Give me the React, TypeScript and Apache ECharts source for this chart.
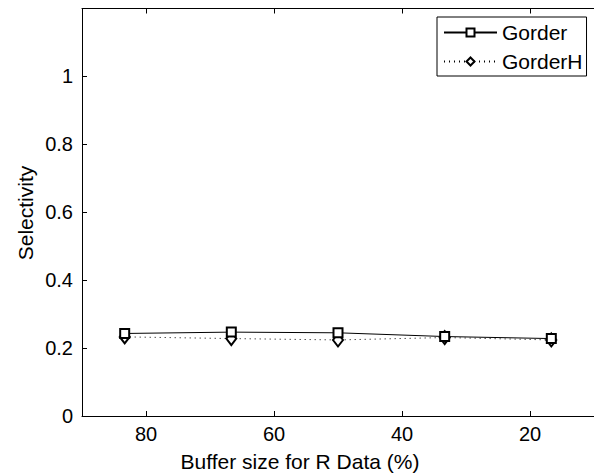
import React, { useEffect, useRef } from "react";
import * as echarts from "echarts";

const bufferSizes = [83.33, 66.67, 50, 33.33, 16.67];
const gorder = [0.243, 0.247, 0.245, 0.234, 0.228];
const gorderH = [0.233, 0.228, 0.224, 0.231, 0.224];
const xTicks = [20, 40, 60, 80];
const yTicks = [0, 0.2, 0.4, 0.6, 0.8, 1];
const seriesNames = ["Gorder", "GorderH"];
const xTitle = "Buffer size for R Data (%)";
const yTitle = "Selectivity";

const FONT = "'Liberation Sans', Arial, Helvetica, sans-serif";

export default function App() {
  const ref = useRef<HTMLDivElement>(null);
  useEffect(() => {
    document.body.style.margin = "0";
    document.body.style.overflow = "hidden";
    const chart = echarts.init(ref.current!, undefined, { renderer: "svg" });
    const axisLine = { lineStyle: { color: "#000", width: 1 } };
    const tick = { inside: true, length: 5, lineStyle: { color: "#000", width: 1 } };
    chart.setOption({
      animation: false,
      backgroundColor: "#fff",
      textStyle: { fontFamily: FONT },
      grid: { left: 82, top: 8.5, width: 520, height: 407.5, containLabel: false },
      legend: {
        data: seriesNames,
        orient: "vertical",
        left: 437,
        top: 17,
        backgroundColor: "#fff",
        borderColor: "#000",
        borderWidth: 1,
        borderRadius: 0,
        padding: [5, 4, 4, 6],
        itemWidth: 53,
        itemHeight: 10,
        itemGap: 8,
        textStyle: { fontSize: 21, lineHeight: 21, color: "#000", fontFamily: FONT },
      },
      xAxis: [
        {
          type: "value",
          min: 10,
          max: 90,
          inverse: true,
          position: "bottom",
          splitLine: { show: false },
          axisLine,
          axisTick: { ...tick, customValues: xTicks },
          axisLabel: { customValues: xTicks, fontSize: 20, color: "#000", margin: 8, fontFamily: FONT },
        },
        {
          type: "value",
          min: 10,
          max: 90,
          inverse: true,
          position: "top",
          splitLine: { show: false },
          axisLine,
          axisTick: { ...tick, customValues: xTicks },
          axisLabel: { show: false },
        },
      ],
      yAxis: {
        type: "value",
        min: 0,
        max: 1.2,
        splitLine: { show: false },
        axisLine: { show: true, ...axisLine },
        axisTick: { show: true, ...tick, customValues: yTicks },
        axisLabel: {
          customValues: yTicks,
          fontSize: 20,
          color: "#000",
          margin: 9,
          fontFamily: FONT,
          formatter: (v: number) => String(Math.round(v * 10) / 10),
        },
      },
      series: [
        {
          name: seriesNames[0],
          type: "line",
          data: bufferSizes.map((x, i) => [x, gorder[i]]),
          symbol: "emptyRect",
          symbolSize: 9,
          itemStyle: { color: "#000", borderWidth: 0.8 },
          lineStyle: { color: "#000", width: 1, type: "solid" },
          z: 3,
        },
        {
          name: seriesNames[1],
          type: "line",
          data: bufferSizes.map((x, i) => [x, gorderH[i]]),
          symbol: "emptyDiamond",
          symbolSize: [10, 13],
          itemStyle: { color: "#000", borderWidth: 0.8 },
          lineStyle: { color: "#000", width: 1, type: [1, 4] },
          z: 2,
        },
      ],
      graphic: [
        {
          type: "text",
          x: 300,
          y: 461,
          style: {
            text: xTitle,
            fontSize: 21,
            fontFamily: FONT,
            fill: "#000",
            align: "center",
            verticalAlign: "middle",
          },
        },
        {
          type: "text",
          x: 25,
          y: 213,
          rotation: Math.PI / 2,
          style: {
            text: yTitle,
            fontSize: 21,
            fontFamily: FONT,
            fill: "#000",
            align: "center",
            verticalAlign: "middle",
          },
        },
      ],
    });
    return () => chart.dispose();
  }, []);
  return (
    <div
      ref={ref}
      style={{ position: "absolute", left: 0, top: 0, width: 594, height: 473 }}
    />
  );
}
